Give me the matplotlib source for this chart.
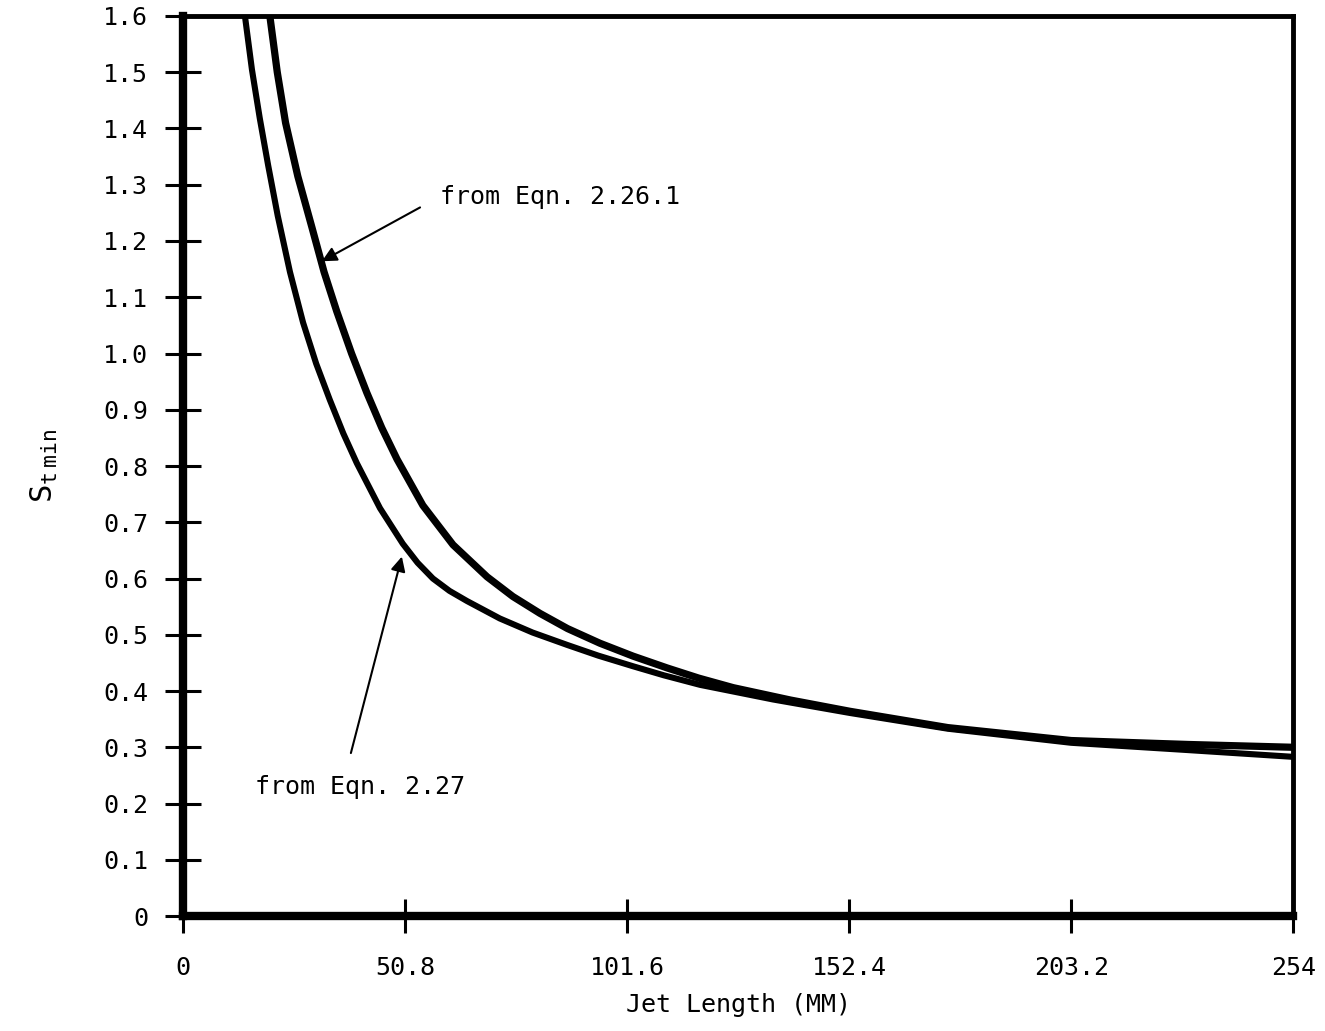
import matplotlib
matplotlib.use('Agg')
import matplotlib.pyplot as plt

# values
jet_len_2261 = [19.9, 21.6, 23.5, 26.3, 29.5, 32.3, 35.2, 38.6, 42.1, 45.5, 49.0,
                54.9, 61.8, 69.6, 75.5, 81.7, 88.0, 95.4, 103.0, 110.8, 118.0,
                125.9, 139.0, 152.6, 175.0, 203.2, 230.0, 254.0]
st_min_2261 = [1.60, 1.50, 1.41, 1.315, 1.225, 1.145, 1.075, 1.000, 0.930, 0.868, 0.812,
               0.730, 0.660, 0.603, 0.568, 0.538, 0.511, 0.485, 0.462, 0.441, 0.423,
               0.406, 0.384, 0.364, 0.335, 0.312, 0.305, 0.300]

jet_len_227 = [14.2, 15.8, 17.6, 19.5, 21.7, 24.5, 27.5, 30.5, 33.6, 36.7, 39.8,
               45.1, 50.3, 53.7, 57.2, 61.0, 65.0, 72.5, 80.0, 87.9, 95.0, 103.0, 110.0,
               118.3, 135.0, 152.6, 175.0, 203.2, 230.0, 254.0]
st_min_227 = [1.60, 1.505, 1.418, 1.335, 1.245, 1.145, 1.055, 0.982, 0.918, 0.858, 0.805,
              0.725, 0.662, 0.628, 0.600, 0.578, 0.560, 0.529, 0.504, 0.482, 0.463, 0.444,
              0.428, 0.411, 0.385, 0.361, 0.333, 0.308, 0.295, 0.283]

x_ticks = [0, 50.8, 101.6, 152.4, 203.2, 254]
x_labels = ['0', '50.8', '101.6', '152.4', '203.2', '254']
y_ticks = [0, 0.1, 0.2, 0.3, 0.4, 0.5, 0.6, 0.7, 0.8, 0.9, 1.0, 1.1, 1.2, 1.3, 1.4, 1.5, 1.6]
y_labels = ['0'] + ['%.1f' % v for v in y_ticks[1:]]

plt.rcParams['font.family'] = ['DejaVu Sans Mono']
plt.rcParams['mathtext.fontset'] = 'custom'
plt.rcParams['mathtext.rm'] = 'DejaVu Sans Mono'
plt.rcParams['mathtext.it'] = 'DejaVu Sans Mono'

fig = plt.figure(figsize=(13.25, 10.31), dpi=100)
ax = fig.add_axes([0.138, 0.1115, 0.838, 0.873])

ax.plot(jet_len_2261, st_min_2261, color='black', lw=5.2, solid_capstyle='butt',
        solid_joinstyle='round')
ax.plot(jet_len_227, st_min_227, color='black', lw=4.4, solid_capstyle='butt',
        solid_joinstyle='round')

ax.set_xlim(0, 254)
ax.set_ylim(0, 1.6)
ax.set_xticks(x_ticks)
ax.set_xticklabels(x_labels)
ax.set_yticks(y_ticks)
ax.set_yticklabels(y_labels)

for side, w in [('left', 6), ('bottom', 6), ('top', 3.5), ('right', 3.5)]:
    ax.spines[side].set_linewidth(w)

ax.tick_params(axis='y', direction='inout', length=26, width=2.2, pad=12, labelsize=18)
ax.tick_params(axis='x', direction='inout', length=24, width=2.2, pad=17, labelsize=18)

ax.set_xlabel('Jet Length (MM)', fontsize=18, labelpad=9)
ax.set_ylabel(r'S$_{\mathrm{t\ min}}$', fontsize=22, labelpad=31)

ax.annotate('from Eqn. 2.26.1', xy=(31.8, 1.164), xytext=(58.8, 1.279),
            fontsize=18, va='center', ha='left',
            arrowprops=dict(arrowstyle='-|>', color='black', lw=1.5,
                            mutation_scale=22, shrinkA=14, shrinkB=0,
                            relpos=(0.0, 0.5)))
ax.annotate('from Eqn. 2.27', xy=(50.1, 0.639), xytext=(16.5, 0.23),
            fontsize=18, va='center', ha='left',
            arrowprops=dict(arrowstyle='-|>', color='black', lw=1.5,
                            mutation_scale=22, shrinkA=14, shrinkB=0,
                            relpos=(0.43, 1.0)))

fig.savefig('out.png', dpi=100)
